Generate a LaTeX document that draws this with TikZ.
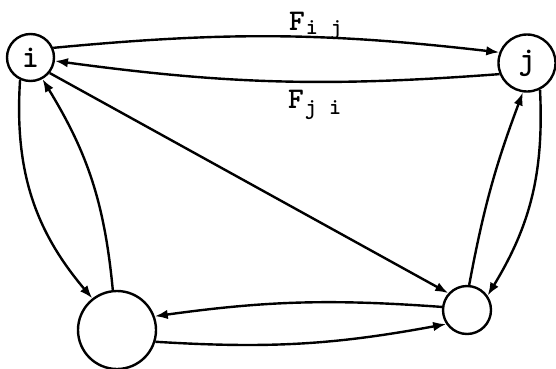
\documentclass[tikz,border=0pt]{standalone}
\usepackage{fontspec}
\usetikzlibrary{arrows.meta}
\begin{document}
\begin{tikzpicture}[x=1pt,y=1pt,
  vtx/.style={circle,draw,line width=2.4pt,inner sep=0pt,font=\ttfamily\bfseries\fontsize{32}{32}\selectfont},
  arr/.style={line width=2.4pt,-{Latex[length=13pt,width=9.5pt]}},
  lbl/.style={font=\ttfamily\bfseries\fontsize{30}{30}\selectfont,inner sep=0pt}]
\useasboundingbox (0,0) rectangle (556,368);
\node[vtx,minimum size=47pt] (i) at (30.5,310.5) {i};
\node[vtx,minimum size=57pt] (j) at (527,305) {j};
\node[vtx,minimum size=78pt] (L) at (117,38) {};
\node[vtx,minimum size=48pt] (R) at (467,58) {};
\node[lbl,anchor=base west] (fij) at (289,338) {F\hspace{1pt}\raisebox{-5pt}{\fontsize{23}{23}\selectfont i j}};
\node[lbl,anchor=base west] (fji) at (288,260) {F\hspace{1pt}\raisebox{-6pt}{\fontsize{23}{23}\selectfont j i}};
\draw[arr] (i.23) to[bend left=6] (j.159);
\draw[arr] (j.202) to[bend left=6] (i.-8);
\draw[arr] (i.-39) -- (R.138);
\draw[arr] (i.245) to[bend right=22] (L.128);
\draw[arr] (L.96) to[bend right=13] (i.-61);
\draw[arr] (j.-64) to[bend left=17] (R.35);
\draw[arr] (R.85) to[bend left=5] (j.-98);
\draw[arr] (R.173) to[bend right=6] (L.20);
\draw[arr] (L.-17) to[bend right=7] (R.-146);
\end{tikzpicture}
\end{document}
